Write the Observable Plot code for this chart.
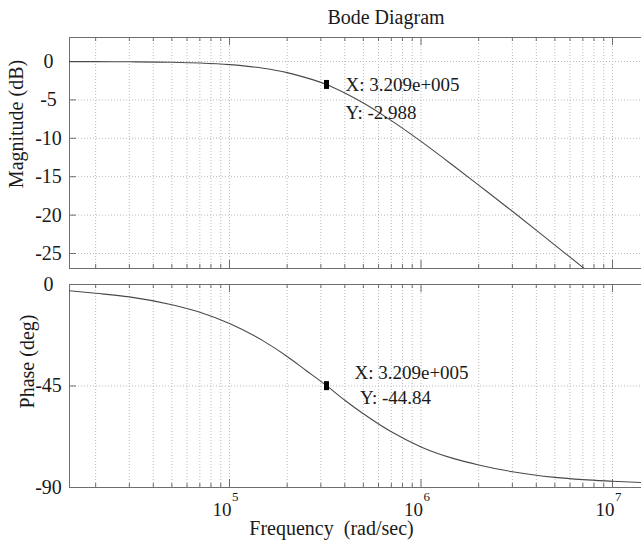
<!DOCTYPE html>
<html><head><meta charset="utf-8">
<script src="https://cdn.jsdelivr.net/npm/d3@7"></script>
<script src="https://cdn.jsdelivr.net/npm/@observablehq/plot@0.6"></script>
<style>
body{margin:0;background:#fff}
#chart{position:relative;width:641px;height:541px;overflow:hidden;background:#fff}
#chart svg{position:absolute;left:0}
#chart svg text{font-family:'Liberation Serif','Times New Roman',serif;font-variant:normal}
</style>
</head><body><div id="chart"></div>
<script>
// ---- data ----
const freq     = [14600, 20000, 30000, 50000, 70000, 100000, 150000, 200000, 250000, 320900, 400000, 500000, 700000, 1000000, 1500000, 2000000, 3000000, 5000000, 7000000, 10000000, 14200000];
const magDb    = [-0.01, -0.02, -0.04, -0.10, -0.20, -0.41, -0.88, -1.45, -2.1, -2.988, -4.1, -5.4, -7.7, -10.4, -13.7, -16.1, -19.5, -23.9, -26.8, -29.9, -32.9];
const phaseDeg = [-2.8, -3.9, -5.5, -9.0, -12.3, -17.3, -25.0, -31.9, -38.0, -44.84, -51.3, -57.3, -65.3, -72.0, -77.3, -80.0, -83.0, -85.5, -86.5, -87.2, -87.8];
const xMajor = [1e5, 1e6, 1e7];
const xExponents = ["5", "6", "7"];
const xMinor = [2e4,3e4,4e4,5e4,6e4,7e4,8e4,9e4, 2e5,3e5,4e5,5e5,6e5,7e5,8e5,9e5, 2e6,3e6,4e6,5e6,6e6,7e6,8e6,9e6];
const magTicks = [0, -5, -10, -15, -20, -25];
const phaseTicks = [0, -45, -90];
const cursorFreq = [320900];
const cursorMag = [-2.988];
const cursorPhase = [-44.84];
const cursorMagLabels = ["X: 3.209e+005", "Y: -2.988"];
const cursorPhaseLabels = ["X: 3.209e+005", "Y: -44.84"];
const titleText = "Bode Diagram";
const magLabel = "Magnitude (dB)";
const phaseLabel = "Phase (deg)";
const freqLabel = "Frequency\u00a0 (rad/sec)";

// ---- build ----
const rows = freq.map((f, i) => ({f, mag: magDb[i], phase: phaseDeg[i]}));
const allX = [...xMinor, ...xMajor];
const W = 641, ML = 69, MR = 0;
const xDomain = [14605, 1.417e7];
const font = "'Liberation Serif', 'Times New Roman', serif";
const frameColor = "#6e6e6e", curveColor = "#4a4a4a", gridColor = "#bcbcbc", textColor = "#1a1a1a";
const markerShape = {draw(ctx) { ctx.rect(-2.5, -4.5, 5, 9); }};
const fmt = d => String(d);

function borders(h) {
  return [
    Plot.frame({anchor: "top", stroke: frameColor}),
    Plot.frame({anchor: "bottom", stroke: frameColor}),
    Plot.frame({anchor: "left", stroke: frameColor}),
    Plot.tickX(xMinor, {x: d => d, stroke: frameColor, insetTop: h - 4}),
    Plot.tickX(xMinor, {x: d => d, stroke: frameColor, insetBottom: h - 4}),
    Plot.tickX(xMajor, {x: d => d, stroke: frameColor, insetTop: h - 8}),
    Plot.tickX(xMajor, {x: d => d, stroke: frameColor, insetBottom: h - 8})
  ];
}

// top panel: magnitude
const topH = 280, topMT = 37, topMB = 12;
const topPH = topH - topMT - topMB;
const magPlot = Plot.plot({
  width: W, height: topH, marginLeft: ML, marginRight: MR, marginTop: topMT, marginBottom: topMB,
  style: {fontFamily: font, fontSize: "20px", color: textColor, background: "transparent", overflow: "visible"},
  x: {type: "log", domain: xDomain, axis: null},
  y: {domain: [-26.95, 3.125], axis: null},
  marks: [
    Plot.ruleX(allX, {x: d => d, stroke: gridColor, strokeDasharray: "1,2"}),
    Plot.ruleY(magTicks, {y: d => d, stroke: gridColor, strokeDasharray: "1,2"}),
    ...borders(topPH),
    Plot.tickY(magTicks, {y: d => d, stroke: frameColor, insetRight: (W - ML - MR) - 7}),
    Plot.axisY(magTicks, {anchor: "left", tickSize: 0, tickPadding: 21, textAnchor: "middle", tickFormat: fmt, label: null, fontSize: 20, fontFamily: font, fontVariant: "normal"}),
    Plot.line(rows, {x: "f", y: "mag", stroke: curveColor, strokeWidth: 1.1, curve: "monotone-x", clip: true}),
    Plot.dot(cursorFreq, {x: d => d, y: (d, i) => cursorMag[i], symbol: markerShape, fill: "black", stroke: "none"}),
    Plot.text([cursorMagLabels[0]], {x: () => cursorFreq[0], y: () => cursorMag[0], textAnchor: "start", lineAnchor: "bottom", dx: 19, dy: 6.5, fontSize: 19, fill: textColor}),
    Plot.text([cursorMagLabels[1]], {x: () => cursorFreq[0], y: () => cursorMag[0], textAnchor: "start", lineAnchor: "bottom", dx: 19, dy: 34.5, fontSize: 19, fill: textColor}),
    Plot.text([titleText], {frameAnchor: "top", dx: 30.5, dy: -14, lineAnchor: "bottom", fontSize: 20, fill: textColor}),
    Plot.text([magLabel], {frameAnchor: "left", textAnchor: "middle", rotate: -90, dx: -53, dy: -29, fontSize: 20, fill: textColor})
  ]
});
magPlot.style.top = "0px";

// bottom panel: phase
const botH = 271, botMT = 14, botMB = 54;
const botPH = botH - botMT - botMB;
const phasePlot = Plot.plot({
  width: W, height: botH, marginLeft: ML, marginRight: MR, marginTop: botMT, marginBottom: botMB,
  style: {fontFamily: font, fontSize: "20px", color: textColor, background: "transparent", overflow: "visible"},
  x: {type: "log", domain: xDomain, axis: null},
  y: {domain: [-90, 0], axis: null},
  marks: [
    Plot.ruleX(allX, {x: d => d, stroke: gridColor, strokeDasharray: "1,2"}),
    Plot.ruleY(phaseTicks, {y: d => d, stroke: gridColor, strokeDasharray: "1,2"}),
    ...borders(botPH),
    Plot.tickY(phaseTicks, {y: d => d, stroke: frameColor, insetRight: (W - ML - MR) - 7}),
    Plot.axisY(phaseTicks, {anchor: "left", tickSize: 0, tickPadding: 21, textAnchor: "middle", tickFormat: fmt, label: null, fontSize: 20, fontFamily: font, fontVariant: "normal"}),
    Plot.line(rows, {x: "f", y: "phase", stroke: curveColor, strokeWidth: 1.1, curve: "monotone-x", clip: true}),
    Plot.dot(cursorFreq, {x: d => d, y: (d, i) => cursorPhase[i], symbol: markerShape, fill: "black", stroke: "none"}),
    Plot.text([cursorPhaseLabels[0]], {x: () => cursorFreq[0], y: () => cursorPhase[0], textAnchor: "start", lineAnchor: "bottom", dx: 28, dy: -6.5, fontSize: 19, fill: textColor}),
    Plot.text([cursorPhaseLabels[1]], {x: () => cursorFreq[0], y: () => cursorPhase[0], textAnchor: "start", lineAnchor: "bottom", dx: 33.5, dy: 18.5, fontSize: 19, fill: textColor}),
    Plot.text(xMajor, {x: d => d, frameAnchor: "bottom", text: () => "10", textAnchor: "end", lineAnchor: "bottom", dx: 2, dy: 28, fontSize: 19, fill: textColor}),
    Plot.text(xMajor, {x: d => d, frameAnchor: "bottom", text: (d, i) => xExponents[i], textAnchor: "start", lineAnchor: "bottom", dx: 2.5, dy: 13, fontSize: 13, fill: textColor}),
    Plot.text([freqLabel], {frameAnchor: "bottom", dx: -24, dy: 47, lineAnchor: "bottom", fontSize: 20, fill: textColor}),
    Plot.text([phaseLabel], {frameAnchor: "left", textAnchor: "middle", rotate: -90, dx: -42, dy: -24.5, fontSize: 20, fill: textColor})
  ]
});
phasePlot.style.top = "270px";

const chart = document.getElementById("chart");
chart.appendChild(magPlot);
chart.appendChild(phasePlot);
</script>
</body></html>
